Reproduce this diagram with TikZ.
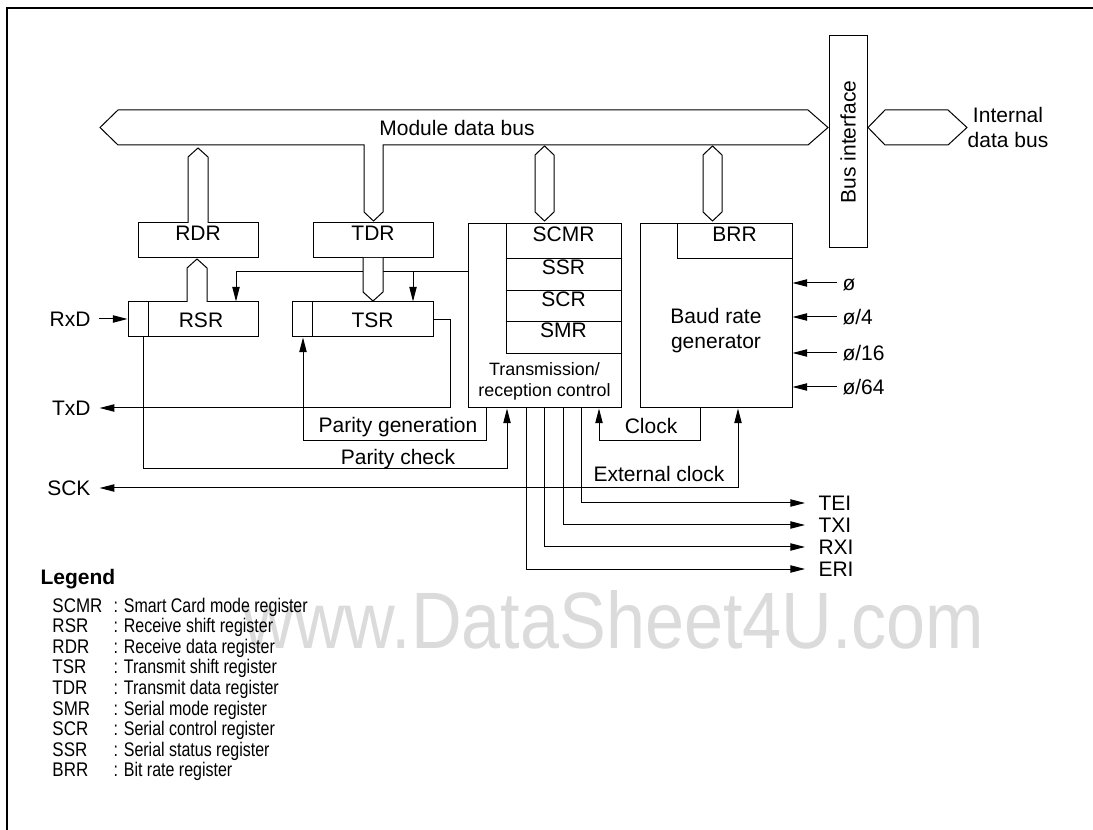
\documentclass[tikz,border=0pt]{standalone}
\usepackage{fontspec}
\setmainfont{Liberation Sans}
\usetikzlibrary{arrows.meta,fit}
\begin{document}
\begin{tikzpicture}[x=0.75pt,y=-0.75pt,line width=0.75pt,
  lbl/.style={inner sep=0pt,font=\fontsize{15.75}{18.75}\selectfont,text height=11.3pt,text depth=0pt},
  mlbl/.style={inner sep=0pt,font=\fontsize{15.75}{18.75}\selectfont,align=center},
  box/.style={draw,fill=white,inner sep=0pt,font=\fontsize{15.75}{18.75}\selectfont},
  sig/.style={-{Triangle[length=11pt,width=5.5pt]}},
  bus/.style={draw,fill=white,line join=miter},
  leg/.style={inner sep=0pt,anchor=west,font=\fontsize{14.8}{17}\selectfont,text height=10.6pt,text depth=0pt}
]
\useasboundingbox (0,0) rectangle (1093,830);
% watermark
\node[anchor=base west,inner sep=0pt,text=black!14,font=\fontsize{60}{60}\selectfont] (wm) at (243,648) {\scalebox{0.877}[1]{www.DataSheet4U.com}};
% frame
\draw[line width=1.5pt] (7,830) -- (7,8) -- (1093,8);

% bus interface
\node[box,fit={(829,36)(867,248)}] (BI) {};
\node[lbl,rotate=90] at (848,142) {Bus interface};

% module data bus
\draw[bus] (100,127.5) -- (118,110) -- (808,110) -- (828,127.5) -- (808,145) -- (383,145) -- (383,212) -- (373.5,221) -- (364,212) -- (364,145) -- (118,145) -- cycle;
\node[lbl] (mdb) at (457,128) {Module data bus};
% internal data bus
\draw[bus] (868,127.5) -- (885,110) -- (948,110) -- (967,127.5) -- (948,145) -- (885,145) -- cycle;
\node[mlbl] (idb) at (1008,127) {Internal\\data bus};

% registers
\node[box,fit={(138,223)(258,258)}] (RDR) {RDR};
\node[box,fit={(313,223)(433,258)}] (TDR) {TDR};
\node[box,fit={(128,302)(258,337)}] (RSR) {};
\draw (148,302) -- (148,337);
\node[lbl] at (201,319.5) {RSR};
\node[box,fit={(292,302)(433,337)}] (TSR) {};
\draw (312,302) -- (312,337);
\node[lbl] at (372.5,319.5) {TSR};

% transmission/reception control
\node[box,fit={(468,224)(621,408)}] (TR) {};
\node[box,fit={(506,224)(621,259)}] (SCMR) {SCMR};
\node[box,fit={(506,259)(621,291)}] (SSR) {SSR};
\node[box,fit={(506,291)(621,322)}] (SCR) {SCR};
\node[box,fit={(506,322)(621,354)}] (SMR) {SMR};
\node[inner sep=0pt,align=center,font=\fontsize{13.4}{15.75}\selectfont] at (544.5,381) {Transmission/\\reception control};

% baud rate generator
\node[box,fit={(640,224)(792,408)}] (BRG) {};
\node[box,fit={(677,224)(792,259)}] (BRR) {BRR};
\node[mlbl] at (716,331) {Baud rate\\generator};

% vertical bus links
\draw[bus] (188,223) -- (188,157) -- (198,148) -- (208,157) -- (208,223);
\draw[bus] (535,155) -- (544.5,146) -- (554,155) -- (554,212) -- (544.5,221) -- (535,212) -- cycle;
\draw[bus] (703,155) -- (712.5,146) -- (722,155) -- (722,212) -- (712.5,221) -- (703,212) -- cycle;
\draw[bus] (187,302) -- (187,268) -- (197,259) -- (207,268) -- (207,302);

% control line to shift registers
\coordinate (c1) at (236,272);
\coordinate (c2) at (413,272);
\draw (TR.west |- c1) -- (c1);
\draw[sig] (c1) -- (c1 |- RSR.north);
\draw[sig] (c2) -- (c2 |- TSR.north);
\draw[bus] (363,258) -- (363,292) -- (373,301) -- (383,292) -- (383,258);

% RxD
\node[lbl,anchor=east] (RxD) at (91,319) {RxD};
\draw[sig] ([xshift=6pt]RxD.east) -- (RSR.west |- RxD.east);
% TxD
\node[lbl,anchor=east] (TxD) at (91,408) {TxD};
\coordinate (tx1) at (450,319.5);
\draw[sig] (TSR.east) -- (tx1) |- ([xshift=6.5pt]TxD.east);
% SCK
\node[lbl,anchor=east] (SCK) at (91,488) {SCK};
\coordinate (ek) at (738,488);
\draw[sig] (ek) -- ([xshift=6.5pt]SCK.east);
\draw[sig] (ek) -- (ek |- BRG.south);
\node[lbl] (extclk) at (659,474) {External clock};

% parity generation
\coordinate (pg1) at (486,441);
\coordinate (pg2) at (303,441);
\draw[sig] (TR.south -| pg1) -- (pg1) -- (pg2) -- (pg2 |- TSR.south);
\node[lbl] (pgen) at (398,425) {Parity generation};
% parity check
\coordinate (pc1) at (143,469);
\coordinate (pc2) at (507,469);
\draw[sig] (RSR.south -| pc1) -- (pc1) -- (pc2) -- (pc2 |- TR.south);
\node[lbl] (pchk) at (398,457) {Parity check};

% clock
\coordinate (ck1) at (700,441);
\coordinate (ck2) at (599,441);
\draw[sig] (BRG.south -| ck1) -- (ck1) -- (ck2) -- (ck2 |- TR.south);
\node[lbl] (clk) at (651,426) {Clock};

% interrupt outputs
\foreach \nm/\xx/\yy in {TEI/581/503,TXI/563/525,RXI/544/547,ERI/526/569}{
  \node[lbl,anchor=west] (\nm) at (818,\yy) {\nm};
  \coordinate (o\nm) at (\xx,\yy);
  \draw[sig] (TR.south -| o\nm) -- (o\nm) -- ([xshift=-9.75pt]\nm.west);
}

% clock inputs
\foreach \nm/\tx/\yy in {p0/{ø}/283,p4/{ø/4}/317,p16/{ø/16}/353,p64/{ø/64}/387}{
  \node[lbl,anchor=west] (\nm) at (842,\yy) {\tx};
  \draw[sig] ([xshift=-3.75pt]\nm.west) -- (BRG.east |- \nm.west);
}

% legend
\node[lbl,anchor=west,font=\bfseries\fontsize{15.75}{18.75}\selectfont] (legend) at (40,577) {Legend};
\foreach \ab/\de [count=\i from 0] in {SCMR/Smart Card mode register,RSR/Receive shift register,RDR/Receive data register,TSR/Transmit shift register,TDR/Transmit data register,SMR/Serial mode register,SCR/Serial control register,SSR/Serial status register,BRR/Bit rate register}{
  \node[leg] (la\i) at (52,605+20.6*\i) {\scalebox{0.86}[1]{\ab}};
  \node[leg] (ld\i) at (113,605+20.6*\i) {\scalebox{0.81}[1]{: \de}};
}
\end{tikzpicture}
\end{document}
